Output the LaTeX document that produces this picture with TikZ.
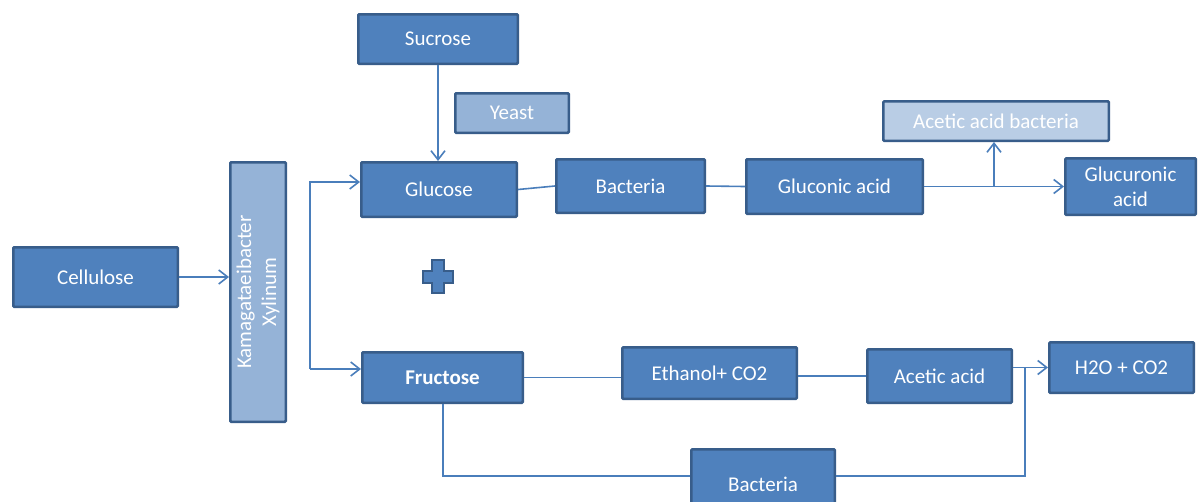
\documentclass[tikz,border=0pt]{standalone}
\usepackage{fontspec}
\setmainfont{Carlito}
\usetikzlibrary{arrows.meta}
\definecolor{mainc}{HTML}{4F81BD}
\definecolor{bordc}{HTML}{385D8A}
\definecolor{lightc}{HTML}{95B3D7}
\definecolor{palec}{HTML}{B9CDE5}
\definecolor{linec}{HTML}{4A7EBB}
\tikzset{
  box/.style={draw=bordc, line width=2.5pt, fill=mainc, text=white, inner sep=0pt,
    align=center, rounded corners=1pt, font=\fontsize{21}{25}\selectfont},
  lightbox/.style={box, fill=lightc},
  palebox/.style={box, fill=palec},
  conn/.style={draw=linec, line width=1.6pt},
  arr/.style={conn, -{Straight Barb[length=9pt,width=14pt,line width=1.6pt]}},
}
\begin{document}
\begin{tikzpicture}[x=1pt,y=-1pt]
\useasboundingbox (0,0) rectangle (1198,501);
\fill[white] (0,0) rectangle (1198,501);
\node[box, minimum width=164.5pt, minimum height=59.5pt] (cel) at (95.5,277) {Cellulose};
\node[lightbox, minimum width=55.5pt, minimum height=259.5pt] (kam) at (258,292) {};
\node[rotate=90, text=white, align=center, font=\fontsize{21}{25}\selectfont] (kamt) at (258,292) {Kamagataeibacter\\Xylinum};
\node[box, minimum width=159.5pt, minimum height=49.5pt] (suc) at (438,39) {Sucrose};
\node[lightbox, minimum width=113.5pt, minimum height=39.5pt] (yst) at (512,113) {Yeast};
\node[box, minimum width=155.5pt, minimum height=54.5pt] (glu) at (439,189.5) {Glucose};
\node[box, minimum width=148.5pt, minimum height=53.5pt] (bac1) at (630.5,186) {Bacteria};
\node[box, minimum width=176.5pt, minimum height=54.5pt] (gluc) at (834.5,186.5) {Gluconic acid};
\node[palebox, minimum width=225.5pt, minimum height=39.5pt] (aab) at (996,121) {Acetic acid bacteria};
\node[box, minimum width=130.5pt, minimum height=56.5pt] (glcr) at (1130.5,186.5) {Glucuronic\\acid};
\node[box, minimum width=160.5pt, minimum height=50.5pt, font=\fontsize{21}{25}\selectfont\bfseries] (fru) at (442.5,377.5) {Fructose};
\node[box, minimum width=174.5pt, minimum height=51.5pt] (eth) at (709.5,373) {Ethanol+ CO2};
\node[box, minimum width=144.5pt, minimum height=53.5pt] (aa) at (939.5,376) {Acetic acid};
\node[box, minimum width=144.5pt, minimum height=50.5pt] (h2o) at (1121.5,367.5) {H2O + CO2};
\node[box, minimum width=143.5pt, minimum height=69.5pt] (bac2) at (763,484) {Bacteria};
% plus sign
\filldraw[fill=mainc, draw=bordc, line width=2pt]
  (432,260) -- (444,260) -- (444,271) -- (453,271) -- (453,283) -- (444,283) -- (444,293)
  -- (432,293) -- (432,283) -- (423,283) -- (423,271) -- (432,271) -- cycle;
% connectors
\draw[arr] (cel.east) -- (cel.east -| kam.west);
\coordinate (k1) at (310,182);
\coordinate (k2) at (310,369);
\draw[arr] (k2) -- (k1) -- (k1 -| glu.west);
\draw[arr] (k2) -- (k2 -| fru.west);
\draw[arr] (suc.south) -- (suc.south |- glu.north);
\draw[conn] (glu.east) -- (bac1.west);
\draw[conn] (bac1.east) -- (gluc.west);
\draw[arr] (gluc.east) -- (gluc.east -| glcr.west);
\coordinate (br) at (994,186.5);
\draw[arr] (br) -- (br |- aab.south);
\draw[conn] (fru.east) -- (fru.east -| eth.west);
\draw[conn] (aa.west -| eth.east) -- (aa.west);
\draw[arr] (aa.east |- h2o.west) -- (h2o.west);
\coordinate (f1) at (443,476);
\draw[conn] (fru.south -| f1) -- (f1) -- (f1 -| bac2.west);
\coordinate (r1) at (1025,476);
\draw[conn] (r1 -| bac2.east) -- (r1) -- (r1 |- h2o.west);
\end{tikzpicture}
\end{document}
